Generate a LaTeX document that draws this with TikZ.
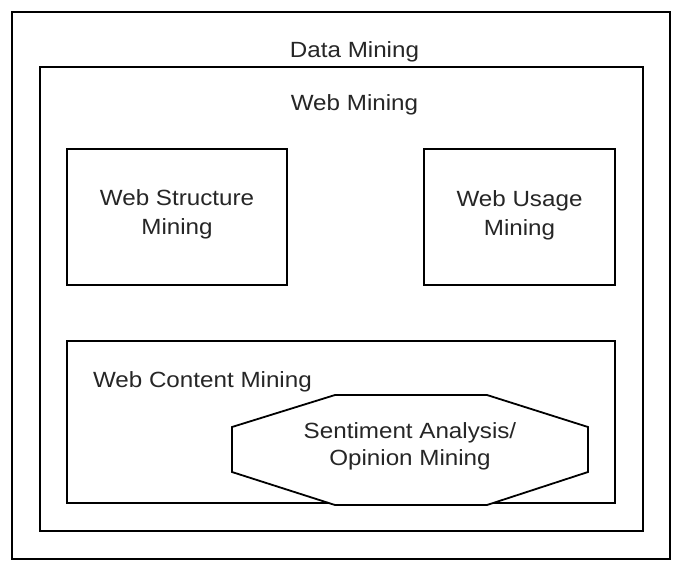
\documentclass[tikz,border=0pt]{standalone}
\usepackage{fontspec}
\setmainfont[FakeStretch=1.1]{Liberation Sans}
\begin{document}
\begin{tikzpicture}[x=1pt,y=-1pt,
  box/.style={draw=black, line width=1.8pt, rectangle, inner sep=0pt, outer sep=0pt},
  lbl/.style={inner sep=0pt, outer sep=0pt, font=\fontsize{22}{29}\selectfont, text=black!85},
  lbltwo/.style={lbl, align=center}]
\useasboundingbox (0,0) rectangle (689,582);
\fill[white] (0,0) rectangle (689,582);
% boxes
\node[box, minimum width=658pt, minimum height=547pt] (dm) at (341,285.5) {};
\node[box, minimum width=603pt, minimum height=464pt] (wm) at (341.5,299) {};
\node[box, minimum width=220pt, minimum height=136pt] (wsm) at (177,217) {};
\node[box, minimum width=191pt, minimum height=136pt] (wum) at (519.5,217) {};
\node[box, minimum width=548pt, minimum height=162pt] (wcm) at (341,422) {};
% octagon
\coordinate (o1) at (335,395);
\coordinate (o2) at (487,395);
\coordinate (o3) at (588,427);
\coordinate (o4) at (588,472);
\coordinate (o5) at (487,505);
\coordinate (o6) at (335,505);
\coordinate (o7) at (232,472);
\coordinate (o8) at (232,427);
\draw[line width=1.8pt, line join=miter, fill=white] (o1) -- (o2) -- (o3) -- (o4) -- (o5) -- (o6) -- (o7) -- (o8) -- cycle;
% labels
\node[lbl, anchor=base] (tdm) at (354.5,57) {Data Mining};
\node[lbl, anchor=base] (twm) at (354.5,110.7) {Web Mining};
\node[lbltwo] (twsm) at (177,214.8) {Web Structure\\Mining};
\node[lbltwo] (twum) at (519.5,215.5) {Web Usage\\Mining};
\node[lbl, anchor=base west] (twcm) at (93,387) {Web Content Mining};
\node[lbltwo, font=\fontsize{22}{27}\selectfont] (tsa) at (410,446.8) {Sentiment Analysis/\\Opinion Mining};
\end{tikzpicture}
\end{document}
